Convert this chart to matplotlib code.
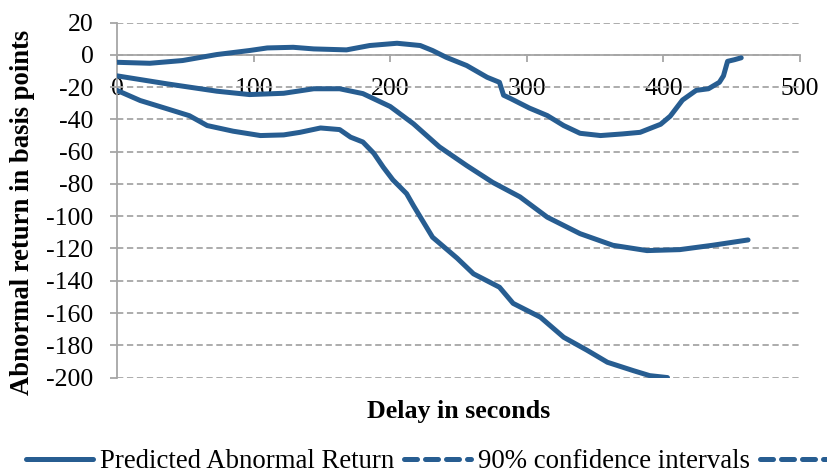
import matplotlib
matplotlib.use("Agg")
import matplotlib.pyplot as plt
from matplotlib.lines import Line2D

# predicted abnormal return (basis points) vs delay (seconds)
pred_x = [0, 37, 73, 97, 122, 144, 163, 180, 200, 217, 236, 256, 275, 295, 315, 339, 363, 388, 412, 436, 462]
pred_y = [-13, -18, -22.5, -24.6, -23.8, -21, -21, -24, -32, -42.7, -57, -68.6, -79, -88, -100.6, -110.8, -118, -121.3, -120.7, -118, -114.7]

# upper 90% confidence bound
up_x = [0, 24, 48, 73, 97, 110, 129, 144, 168, 185, 205, 222, 231, 241, 256, 271, 280, 283, 288, 302, 315, 327, 339,
        354, 370, 383, 398, 405, 414, 424, 433, 441, 444, 447, 452, 457]
up_y = [-4.6, -5.2, -3.5, 0.2, 2.7, 4.3, 4.7, 3.7, 3.1, 5.8, 7.2, 5.8, 2.7, -1.5, -6.6, -13.9, -17, -25, -27, -33, -37.6,
        -43.8, -48.6, -50, -49, -48, -43, -38, -28, -22, -21, -17, -13, -4, -3, -1.8]

# lower 90% confidence bound
lo_x = [0, 17, 37, 53, 66, 85, 105, 122, 134, 149, 163, 171, 180, 188, 195, 202, 212, 217, 231, 249, 261, 280, 290,
        310, 327, 344, 359, 378, 390, 403]
lo_y = [-22, -28.3, -33.5, -37.7, -43.8, -47.3, -50, -49.6, -48, -45.3, -46.3, -51, -54, -61, -69.7, -77.5, -86, -93.4,
        -113, -126, -135.7, -144, -154, -162.6, -175, -183, -190.5, -195.7, -198.8, -200]

x_ticks = [0, 100, 200, 300, 400, 500]
y_ticks = list(range(-200, 21, 20))

BLUE = "#275d91"
GRID = "#a6a6a6"
plt.rcParams["font.family"] = ["Liberation Serif", "DejaVu Serif"]
plt.rcParams["axes.unicode_minus"] = False

fig = plt.figure(figsize=(8.27, 4.75), dpi=100)
ax = fig.add_axes([0.1415, 0.2051, 0.8258, 0.7473])

ax.plot(pred_x, pred_y, color=BLUE, lw=3.6, solid_capstyle="round", zorder=3)
ax.plot(up_x, up_y, color=BLUE, lw=3.6, solid_capstyle="round", zorder=3)
ax.plot(lo_x, lo_y, color=BLUE, lw=3.6, solid_capstyle="round", zorder=3)

ax.set_xlim(0, 500)
ax.set_ylim(-200, 20)
ax.set_xticks(x_ticks)
ax.set_yticks(y_ticks)
ax.yaxis.grid(True, color=GRID, ls=(0, (3.5, 2)), lw=1.3)
ax.set_axisbelow(True)

for s in ["top", "right"]:
    ax.spines[s].set_visible(False)
ax.spines["bottom"].set_position(("data", 0))
for s in ["left", "bottom"]:
    ax.spines[s].set_color(GRID)
    ax.spines[s].set_linewidth(1.3)
ax.tick_params(axis="both", colors=GRID, labelcolor="black", labelsize=18.5, width=1.3, length=5)
ax.tick_params(axis="x", pad=12)
ax.tick_params(axis="y", pad=12)

fig.text(0.027, 0.553, "Abnormal return in basis points", fontsize=19.2, fontweight="bold",
         rotation=90, ha="center", va="center")
fig.text(0.5545, 0.134, "Delay in seconds", fontsize=18.7, fontweight="bold", ha="center", va="center")

handles = [Line2D([], [], color=BLUE, lw=3.6, solid_capstyle="round"),
           Line2D([], [], color=BLUE, lw=3.6, ls=(0, (2.6, 1.6)), dash_capstyle="round"),
           Line2D([], [], color=BLUE, lw=3.6, ls=(0, (2.6, 1.6)), dash_capstyle="round")]
fig.legend(handles, ["Predicted Abnormal Return", "90% confidence intervals", ""], loc="center left",
           bbox_to_anchor=(0.018, 0.028), ncol=3, frameon=False, fontsize=19.3, handlelength=2.5,
           handletextpad=0.26, columnspacing=0.37, borderaxespad=0)

fig.savefig("out.png", dpi=100)
